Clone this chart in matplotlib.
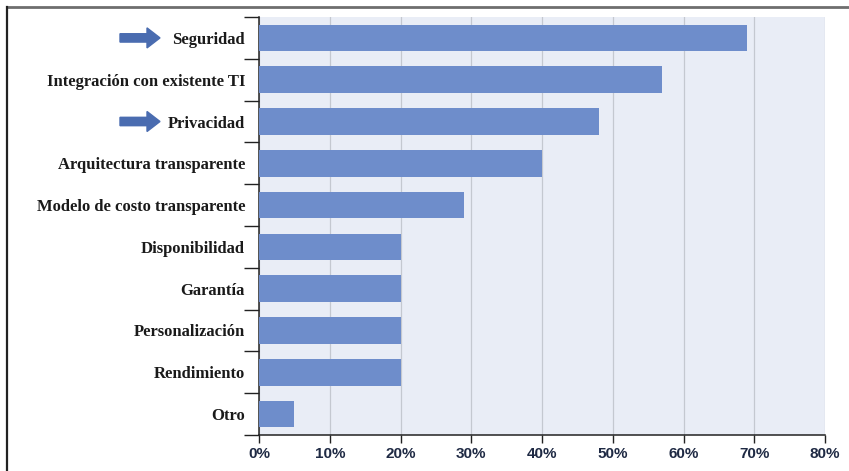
import matplotlib
matplotlib.use("Agg")
import matplotlib.pyplot as plt
from matplotlib.lines import Line2D
from matplotlib.patches import FancyArrow
import matplotlib.transforms as mtransforms

categories = [
    "Seguridad",
    "Integración con existente TI",
    "Privacidad",
    "Arquitectura transparente",
    "Modelo de costo transparente",
    "Disponibilidad",
    "Garantía",
    "Personalización",
    "Rendimiento",
    "Otro",
]
values = [69, 57, 48, 40, 29, 20, 20, 20, 20, 5]
highlighted = ["Seguridad", "Privacidad"]
xticks = [0, 10, 20, 30, 40, 50, 60, 70, 80]
xtick_labels = ["0%", "10%", "20%", "30%", "40%", "50%", "60%", "70%", "80%"]

W, H = 849, 471
fig = plt.figure(figsize=(W / 100, H / 100), dpi=100)
fig.patch.set_facecolor("white")

ax = fig.add_axes([259 / W, 1 - 435 / H, (825 - 259) / W, (435 - 17) / H])
ax.set_facecolor("#e9edf6")

ypos = list(range(len(categories)))
ax.barh(ypos, values, height=0.64, color="#6e8dcb", edgecolor="none", zorder=3)

ax.set_xlim(0, 80)
ax.set_ylim(len(categories) - 0.5, -0.5)

ax.set_xticks(xticks)
ax.set_xticklabels(xtick_labels, fontfamily=["Liberation Sans Narrow", "Liberation Sans"],
                   fontweight="bold", fontsize=11, color="#1f2a44")
ax.tick_params(axis="x", direction="out", length=6, width=1, color="#222222", pad=3)
ax.grid(axis="x", color="#c4c8d0", linewidth=0.9, zorder=1)

ax.set_yticks(ypos)
ax.set_yticklabels(categories, fontfamily="Liberation Serif", fontweight="bold",
                   fontsize=12, color="#1a1a1a")
ax.tick_params(axis="y", which="major", length=0, pad=10)
ax.set_yticks([i - 0.5 for i in range(len(categories) + 1)], minor=True)
ax.tick_params(axis="y", which="minor", direction="out", length=11, width=1, color="#222222")

for side in ["top", "right"]:
    ax.spines[side].set_visible(False)
for side in ["left", "bottom"]:
    ax.spines[side].set_color("#222222")
    ax.spines[side].set_linewidth(1.1)

# arrows pointing at the highlighted categories
trans = mtransforms.blended_transform_factory(fig.transFigure, ax.transData)
for name in highlighted:
    y = categories.index(name)
    arr = FancyArrow(120 / W, y, 40 / W, 0, width=0.2, head_width=0.48,
                     head_length=13 / W, length_includes_head=True,
                     transform=trans, color="#4a6cb0", clip_on=False)
    fig.add_artist(arr)

# outer frame lines
fig.add_artist(Line2D([7 / W, 1], [1 - 7 / H, 1 - 7 / H], transform=fig.transFigure,
                      color="#6e6e6e", linewidth=2))
fig.add_artist(Line2D([7 / W, 7 / W], [0, 1 - 7 / H], transform=fig.transFigure,
                      color="#222222", linewidth=1.6))

fig.savefig("out.png", dpi=100)
